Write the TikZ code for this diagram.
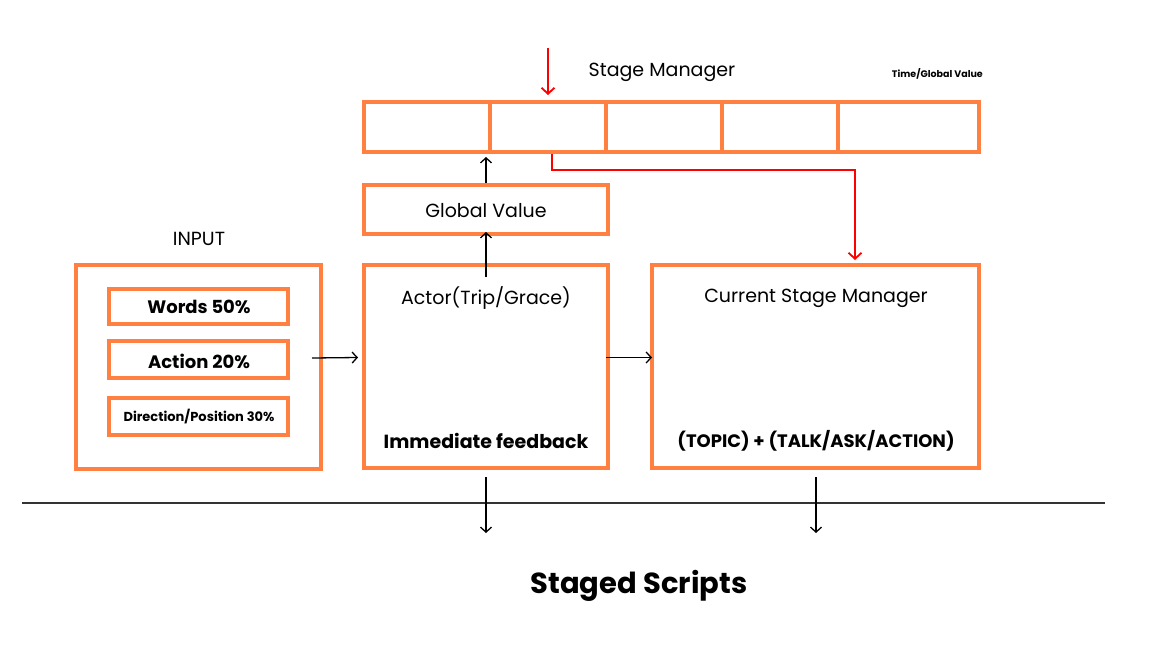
\documentclass[tikz,border=0pt]{standalone}
\usepackage{fontspec}
\setmainfont{Poppins}
\usetikzlibrary{arrows.meta}
\definecolor{boxorange}{RGB}{255,128,64}
\definecolor{stagered}{RGB}{255,0,0}

\tikzset{
  stagebox/.style={draw=boxorange, line width=4pt, inner sep=0pt},
  boxtext/.style={inner sep=0pt, font=\fontsize{19}{22}\selectfont},
  boldtext/.style={inner sep=0pt, font=\fontsize{18}{21}\selectfont\bfseries},
  flow/.style={draw=black, line width=1.3pt, -{Straight Barb[length=5pt,width=11pt]}},
  redflow/.style={draw=stagered, line width=1.8pt, -{Straight Barb[length=6pt,width=13pt]}}
}

\begin{document}
\begin{tikzpicture}[x=1pt,y=-1pt]
\useasboundingbox[fill=white] (0,0) rectangle (1152,648);

% stage manager row
\node[stagebox, minimum width=126pt, minimum height=50pt] (c1) at (427,127) {};
\node[stagebox, minimum width=116pt, minimum height=50pt] (c2) at (548,127) {};
\node[stagebox, minimum width=116pt, minimum height=50pt] (c3) at (664,127) {};
\node[stagebox, minimum width=116pt, minimum height=50pt] (c4) at (780,127) {};
\node[stagebox, minimum width=141pt, minimum height=50pt] (c5) at (908.5,127) {};
\node[boxtext] (smtitle) at (662,72) {Stage Manager};
\node[inner sep=0pt, anchor=east, font=\fontsize{9.5}{11}\selectfont\bfseries] (timelabel) at (983,74) {Time/Global Value};

% global value
\node[stagebox, minimum width=244pt, minimum height=49pt] (global) at (486,209.5) {};
\node[boxtext] (globaltext) at (486,211) {Global Value};

% input
\node[boxtext] (inputtitle) at (199,239) {INPUT};
\node[stagebox, minimum width=245pt, minimum height=204pt] (inbox) at (198.5,367) {};
\node[stagebox, minimum width=179pt, minimum height=35pt] (words) at (198.5,306.5) {};
\node[boldtext] (wordstext) at (199,307) {Words 50\%};
\node[stagebox, minimum width=179pt, minimum height=37pt] (action) at (198.5,359.5) {};
\node[boldtext] (actiontext) at (199,361) {Action 20\%};
\node[stagebox, minimum width=179pt, minimum height=37pt] (direction) at (198.5,416.5) {};
\node[inner sep=0pt, font=\fontsize{13}{15}\selectfont\bfseries] (directiontext) at (199,417) {Direction/Position 30\%};

% actor
\node[stagebox, minimum width=244pt, minimum height=203pt] (actor) at (486,366.5) {};
\node[boxtext] (actortext) at (486,298) {Actor(Trip/Grace)};
\node[boldtext, font=\fontsize{19}{22}\selectfont\bfseries] (feedback) at (486,441) {Immediate feedback};

% current stage manager
\node[stagebox, minimum width=327pt, minimum height=203pt] (csm) at (815.5,366.5) {};
\node[boxtext] (csmtext) at (816,298) {Current Stage Manager};
\node[boldtext] (topic) at (816,441) {(TOPIC) + (TALK/ASK/ACTION)};

% connectors
\coordinate (actorup) at (486,277);
\draw[flow] (actorup) -- ([yshift=4pt]global.south);
\draw[flow] (global.north) -- ([yshift=-3pt]global.north |- c1.south);
\draw[flow] ([xshift=-11pt,yshift=9pt]inbox.east) -- ([xshift=-4pt,yshift=9pt]actor.west);
\draw[flow] ([xshift=-4pt,yshift=9pt]actor.east) -- ([xshift=2pt,yshift=9pt]csm.west);

\coordinate (smtop) at (548,48);
\draw[redflow] (smtop) -- ([yshift=5pt]c2.north);
\draw[redflow] ([xshift=4pt]c2.south) -- ++(0,16) -| ([xshift=39.5pt,yshift=3pt]csm.north);

% staged scripts
\coordinate (ruleL) at (22,503);
\coordinate (ruleR) at (1105,503);
\draw[line width=1.2pt, black!80] (ruleL) -- (ruleR);
\coordinate (scriptL) at (486,533);
\coordinate (scriptR) at (816,533);
\draw[flow] ([yshift=-7pt]actor.south) -- (scriptL);
\draw[flow] ([yshift=-7pt,xshift=0.5pt]csm.south) -- (scriptR);
\node[inner sep=0pt, font=\fontsize{29}{34}\selectfont\bfseries] (staged) at (639,586) {Staged Scripts};
\end{tikzpicture}
\end{document}
